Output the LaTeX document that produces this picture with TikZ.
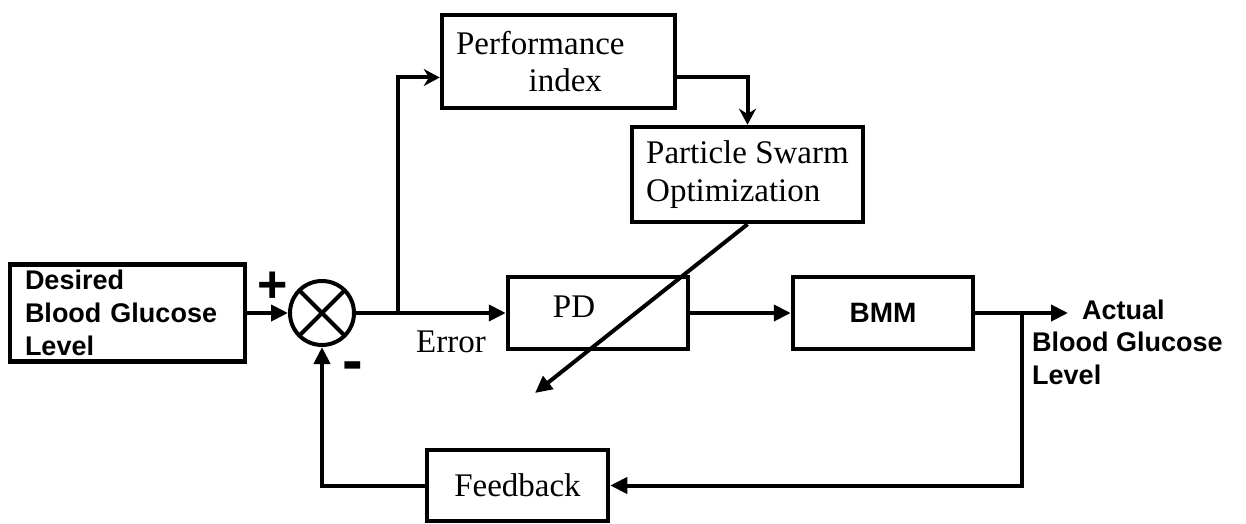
\documentclass[tikz,border=0pt]{standalone}
\usepackage{fontspec}
\setmainfont{Liberation Serif}
\setsansfont{Liberation Sans}
\usetikzlibrary{calc,positioning,arrows.meta}

\begin{document}
\begin{tikzpicture}[x=1pt,y=1pt,
	blockb/.style={
	  draw=black,
	  line width=4.5pt,
	  font=\fontsize{33}{37.5}\selectfont,
	  align=left
	},
	inputb/.style={
	  blockb,
	  font=\sffamily\bfseries\fontsize{27}{33}\selectfont,
	  text width=205pt,
	  inner xsep=15pt,
	  inner ysep=0pt
	},
	textb/.style={
	  inner sep=0pt,
	  align=left,
	  font=\fontsize{33}{37.5}\selectfont
	},
	signb/.style={
	  inner sep=0pt,
	  font=\sffamily\bfseries\fontsize{52}{52}\selectfont
	},
	sumb/.style={
	  circle,
	  draw=black,
	  line width=4pt,
	  minimum size=64pt,
	  path picture={
	    \draw[line width=4pt]
	      (path picture bounding box.north west) -- (path picture bounding box.south east)
	      (path picture bounding box.north east) -- (path picture bounding box.south west);
	  }
	},
	flow/.style={
	  line width=4pt,
	  -{Triangle[length=17pt,width=16pt]}
	},
	tap/.style={
	  line width=4pt,
	  -{Stealth[length=16pt,width=17pt]}
	}]

	\useasboundingbox (0,0) rectangle (1246,523);

	\node[inputb,minimum height=97pt] (Desired) at (127.5,210) {Desired\\Blood Glucose\\Level};
	\node[sumb] (Sum) at (322,210) {};
	\node[blockb,minimum width=233pt,minimum height=93pt,text width=205pt] (PerfIdx) at (558.5,461.5) {Performance\\\hspace*{2.2em}index};
	\node[blockb,minimum width=231pt,minimum height=95pt] (PSO) at (747.5,348.5) {Particle Swarm\\Optimization};
	\node[blockb,minimum width=180pt,minimum height=72pt,
	  label={[textb,xshift=-24pt,yshift=6pt]center:PD}] (PD) at (598,210) {};
	\node[blockb,minimum width=180pt,minimum height=72pt,
	  font=\sffamily\bfseries\fontsize{28}{33}\selectfont] (BMM) at (883,210) {BMM};
	\node[blockb,minimum width=181pt,minimum height=71pt] (Feedback) at (517.5,37.5) {Feedback};

	\node[textb] (Error) at (451,181) {Error};
	\node[signb] (Plus) at (273,236) {+};
	\node[signb,font=\sffamily\bfseries\fontsize{62}{62}\selectfont] (Minus) at (353,151) {-};
	\node[textb,anchor=west,font=\sffamily\bfseries\fontsize{27}{32.5}\selectfont] (ActualTxt) at (1032,181) {\hspace*{50pt}Actual\\Blood Glucose\\Level};

	\coordinate (Branch) at (398,210);
	\coordinate (Tune) at (535,130);
	\coordinate (Out) at (1068,210);
	\coordinate (Tap) at (1022,210);

	\draw[flow] (Desired.east) -- (Sum.west);
	\draw[flow] (Sum.east) -- (PD.west);
	\draw[tap] (Branch) |- ([yshift=-16pt]PerfIdx.west);
	\draw[tap] ([yshift=-16pt]PerfIdx.east) -| (PSO.north);
	\draw[flow] (PSO.south) -- (Tune);
	\draw[flow] (PD.east) -- (BMM.west);
	\draw[flow] (BMM.east) -- (Out);
	\draw[flow] (Tap) |- (Feedback.east);
	\draw[flow] (Feedback.west) -| (Sum.south);
\end{tikzpicture}
\end{document}
